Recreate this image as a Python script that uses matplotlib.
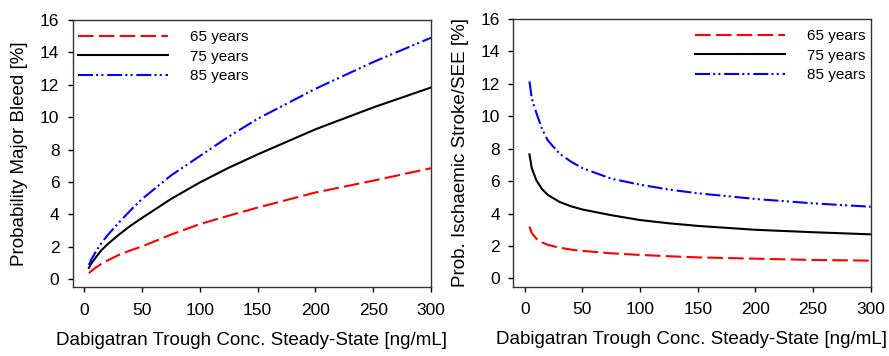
import matplotlib
matplotlib.use("Agg")
import matplotlib.pyplot as plt

plt.rcParams['font.family'] = ['Liberation Sans', 'DejaVu Sans']

conc = [4, 6, 10, 15, 20, 30, 40, 50, 75, 100, 125, 150, 200, 250, 300]

bleed_65 = [0.37, 0.50, 0.72, 0.95, 1.15, 1.50, 1.78, 2.02, 2.75, 3.40, 3.92, 4.42, 5.35, 6.08, 6.85]
bleed_75 = [0.70, 0.95, 1.35, 1.80, 2.15, 2.75, 3.30, 3.78, 4.95, 5.97, 6.88, 7.70, 9.25, 10.60, 11.83]
bleed_85 = [0.88, 1.20, 1.70, 2.25, 2.70, 3.50, 4.25, 4.95, 6.40, 7.60, 8.80, 9.90, 11.75, 13.40, 14.90]

stroke_65 = [3.20, 2.80, 2.45, 2.22, 2.07, 1.90, 1.78, 1.70, 1.55, 1.45, 1.37, 1.30, 1.22, 1.14, 1.10]
stroke_75 = [7.65, 6.80, 6.05, 5.50, 5.15, 4.72, 4.45, 4.25, 3.90, 3.60, 3.40, 3.24, 3.00, 2.85, 2.72]
stroke_85 = [12.15, 11.10, 10.20, 9.20, 8.50, 7.70, 7.20, 6.80, 6.15, 5.78, 5.48, 5.25, 4.90, 4.63, 4.42]

labels = ['65 years', '75 years', '85 years']
colors = ['#ff0000', '#000000', '#0000ff']
styles = [(0, (7.5, 2.5)), '-', (0, (7.2, 1.5, 1.0, 1.5, 1.0, 1.8))]

xticks = [0, 50, 100, 150, 200, 250, 300]
yticks = [0, 2, 4, 6, 8, 10, 12, 14, 16]
xlabel = 'Dabigatran Trough Conc. Steady-State [ng/mL]'
ylabels = ['Probability Major Bleed [%]', 'Prob. Ischaemic Stroke/SEE [%]']

fig = plt.figure(figsize=(8.89, 3.56), dpi=100)
ax1 = fig.add_axes([0.0818, 0.193, 0.403, 0.751])
ax2 = fig.add_axes([0.5774, 0.195, 0.402, 0.752])

panels = [(ax1, [bleed_65, bleed_75, bleed_85], 'upper left', (0.0, 0.981)),
          (ax2, [stroke_65, stroke_75, stroke_85], 'upper right', (1.0, 0.981))]

for i, (ax, series, loc, anchor) in enumerate(panels):
    for ys, lab, c, ls in zip(series, labels, colors, styles):
        ax.plot(conc, ys, color=c, linestyle=ls, linewidth=1.5, label=lab)
    ax.set_xlim(-10, 300)
    ax.set_ylim(-0.5, 16)
    ax.set_xticks(xticks)
    ax.set_yticks(yticks)
    ax.tick_params(direction='out', length=3.6, width=1, labelsize=12.5, top=False, right=False)
    ax.tick_params(axis='x', pad=7.8)
    ax.tick_params(axis='y', pad=6)
    for s in ax.spines.values():
        s.set_linewidth(1.0)
        s.set_color('#333333')
    ax.set_xlabel(xlabel, fontsize=13.5, labelpad=10)
    ax.set_ylabel(ylabels[i], fontsize=13.5, labelpad=8.5)
    leg = ax.legend(loc=loc, bbox_to_anchor=anchor, frameon=False, fontsize=11,
                    handlelength=5.9, handletextpad=1.45, labelspacing=0.35,
                    borderaxespad=0.0, borderpad=0.35)

fig.savefig('out.png', dpi=100)
